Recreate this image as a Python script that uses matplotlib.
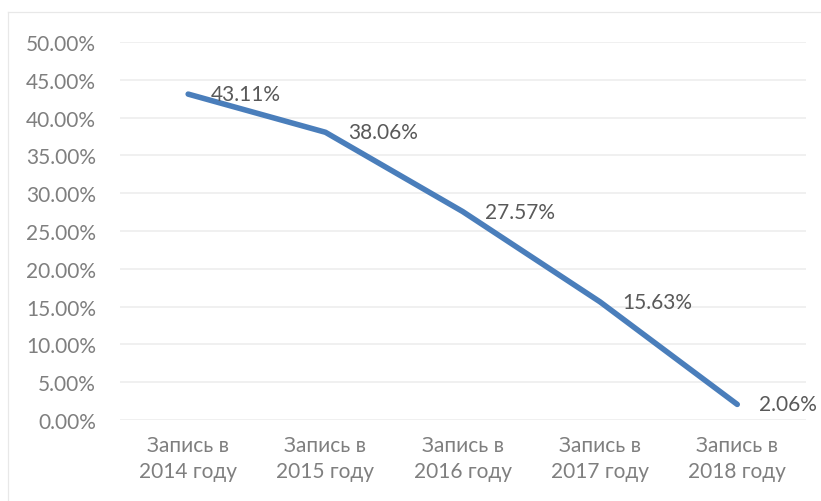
import matplotlib
matplotlib.use("Agg")
import matplotlib.pyplot as plt
from matplotlib.lines import Line2D
from matplotlib.ticker import FuncFormatter, MultipleLocator

# Share of records by year
CATEGORIES = ["Запись в\n2014 году", "Запись в\n2015 году", "Запись в\n2016 году",
              "Запись в\n2017 году", "Запись в\n2018 году"]
VALUES = [0.4311, 0.3806, 0.2757, 0.1563, 0.0206]

LINE_COL = "#4A7EBB"
GRID_COL = "#EDEDED"
AXIS_TXT = "#7F7F7F"
LABEL_TXT = "#595959"
FONT = ["Lato", "DejaVu Sans"]
FS = 15

plt.rcParams["font.family"] = FONT

fig = plt.figure(figsize=(8.21, 5.02), dpi=100)
ax = fig.add_axes([0.1456, 0.1614, 0.8360, 0.7529])

# chart-area frame: only the top and left edges fall inside the image
bx, by = 7.5 / 821, 1 - 12.5 / 502
fig.add_artist(Line2D([bx, 1], [by, by], transform=fig.transFigure,
                      color="#E8E8E8", linewidth=0.9))
fig.add_artist(Line2D([bx, bx], [0, by], transform=fig.transFigure,
                      color="#E8E8E8", linewidth=0.9))

x = list(range(len(VALUES)))
ax.plot(x, VALUES, color=LINE_COL, linewidth=4, solid_capstyle="round",
        solid_joinstyle="round", zorder=3)

for xi, v in zip(x, VALUES):
    ax.annotate(f"{v * 100:.2f}%", xy=(xi, v), xytext=(16, 0),
                textcoords="offset points", ha="left", va="center",
                fontsize=FS, color=LABEL_TXT, zorder=4, annotation_clip=False)

ax.set_xlim(-0.5, len(VALUES) - 0.5)
ax.set_ylim(0, 0.5)
ax.yaxis.set_major_locator(MultipleLocator(0.05))
ax.yaxis.set_major_formatter(FuncFormatter(lambda v, _: f"{v * 100:.2f}%"))
ax.set_xticks(x)
ax.set_xticklabels(CATEGORIES, linespacing=1.35)

ax.grid(axis="y", color=GRID_COL, linewidth=1.2, zorder=0)
ax.set_axisbelow(True)
for s in ax.spines.values():
    s.set_visible(False)
ax.tick_params(axis="both", length=0, labelsize=FS, colors=AXIS_TXT)
ax.tick_params(axis="y", pad=17)
ax.tick_params(axis="x", pad=11)

fig.savefig("out.png", dpi=100)
